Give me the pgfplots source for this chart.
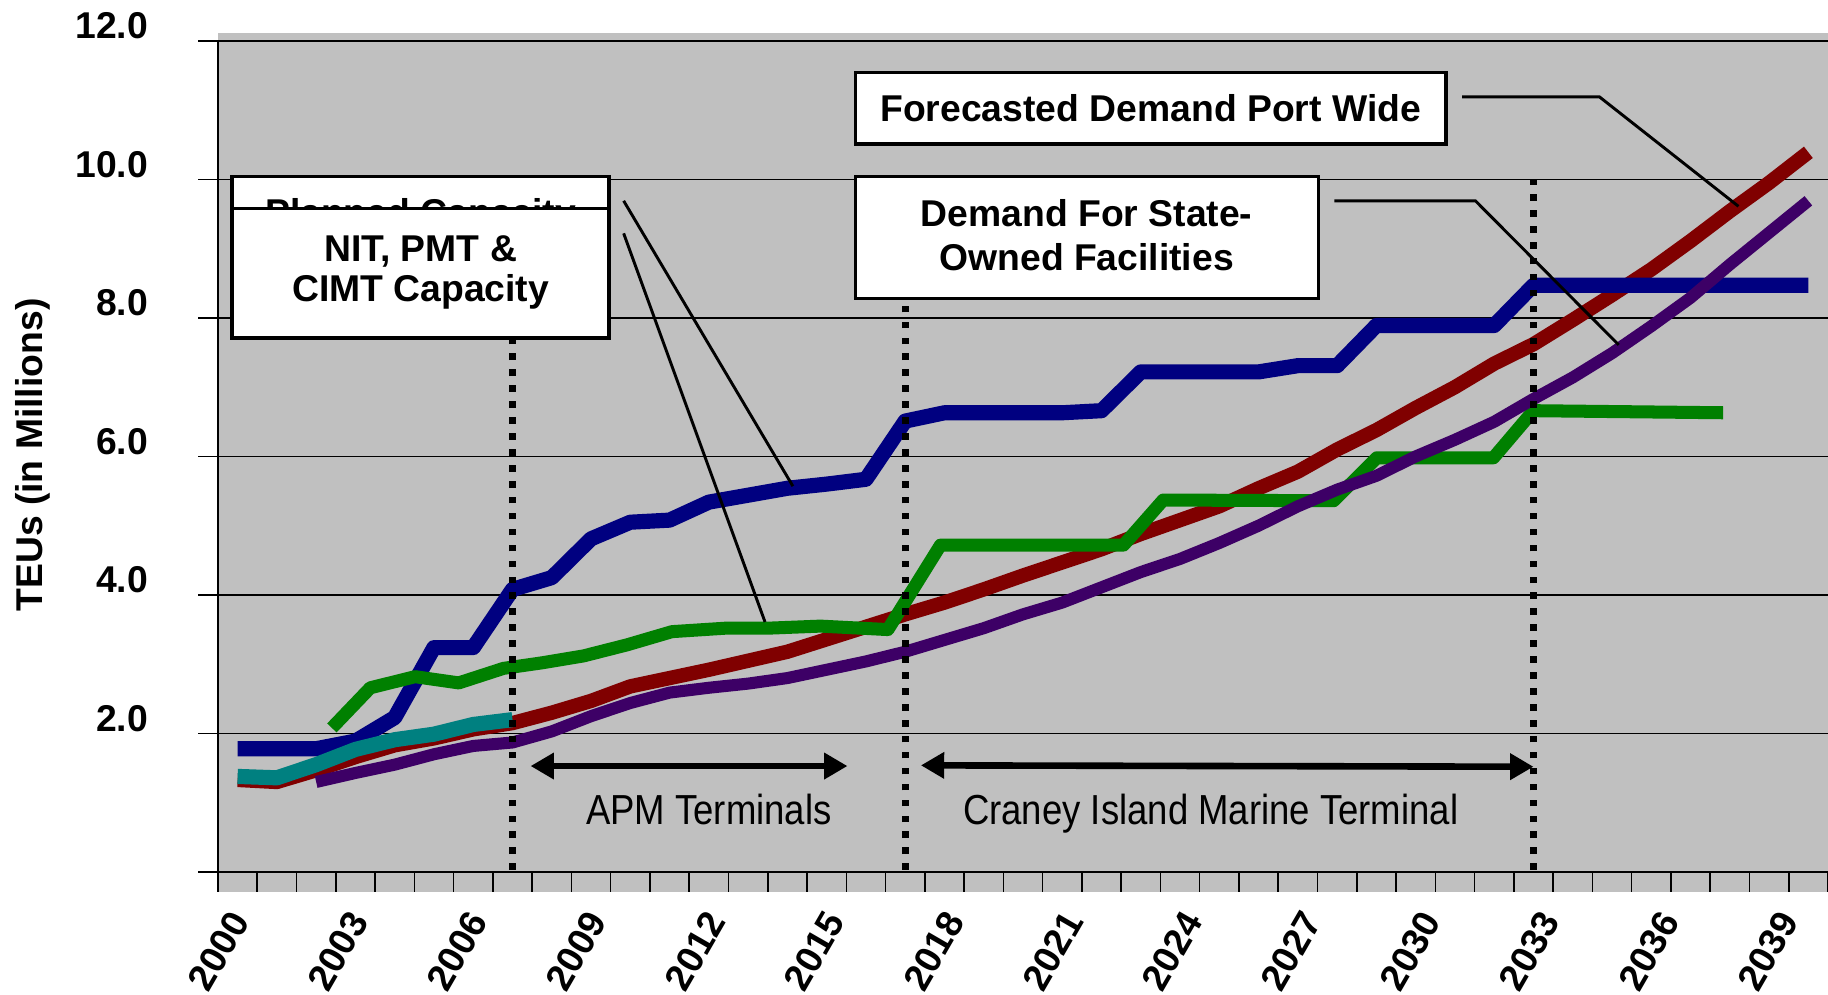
\documentclass[border=0pt]{standalone}
\usepackage{pgfplots}
\pgfplotsset{compat=1.18}
\usepackage{fontspec}
\setmainfont{Liberation Sans}
\newfontfamily\narrowfont[FakeStretch=0.87]{Liberation Sans}
\usetikzlibrary{arrows.meta}
\definecolor{silverbg}{HTML}{C0C0C0}
\definecolor{navyc}{HTML}{000080}
\definecolor{greenc}{HTML}{008000}
\definecolor{maroonc}{HTML}{800000}
\definecolor{purplec}{HTML}{3D0066}
\definecolor{tealc}{HTML}{008080}
\newcommand{\bfnt}{\fontsize{9.6}{11.5}\selectfont\bfseries}
\newcommand{\rfnt}{\narrowfont\fontsize{10.8}{12.5}\selectfont}
\begin{document}
\begin{tikzpicture}
\useasboundingbox (-56.1pt,-31.5pt) rectangle (414.3pt,224.4pt);
\fill[silverbg] (0,-5.1pt) rectangle (414.3pt,216pt);
\begin{axis}[
  at={(0,0)}, anchor=south west,
  width=414.3pt, height=213.9pt, scale only axis,
  xmin=1999.5, xmax=2040.5, ymin=0, ymax=12,
  axis lines*=left,
  axis line style={black, line width=0.5pt},
  clip=false,
  ytick={0,2,4,6,8,10,12},
  yticklabels={,2.0,4.0,6.0,8.0,10.0,12.0},
  ymajorgrids,
  major grid style={black, line width=0.4pt},
  xtick={2000.06,2003.095,2006.13,2009.16,2012.2,2015.23,2018.27,2021.3,2024.34,2027.37,2030.41,2033.44,2036.48,2039.51},
  xticklabels={2000,2003,2006,2009,2012,2015,2018,2021,2024,2027,2030,2033,2036,2039},
  minor xtick={1999.5,2000.5,...,2040.5},
  tick align=outside,
  major tick length=5.1pt, minor tick length=5.1pt,
  tick style={black, line width=0.4pt},
  major x tick style={draw=none},
  tick label style={font=\bfnt},
  xticklabel style={xshift=1.6pt, yshift=-2.9pt, rotate=60, anchor=east},
  yticklabel style={xshift=-9.4pt, yshift=3.9pt, anchor=east},
]
% Forecasted demand port wide (maroon)
\addplot[maroonc, line width=3.7pt, line join=round] coordinates {
(2000,1.33)(2001,1.30)(2002,1.47)(2003,1.66)(2004,1.83)(2005,1.93)(2006,2.06)(2007,2.15)
(2008,2.30)(2009,2.47)(2010,2.68)(2011,2.80)(2012,2.92)(2013,3.05)(2014,3.18)(2015,3.36)
(2016,3.54)(2017,3.72)(2018,3.89)(2019,4.08)(2020,4.28)(2021,4.47)(2022,4.66)(2023,4.88)
(2024,5.08)(2025,5.28)(2026,5.54)(2027,5.78)(2028,6.10)(2029,6.38)(2030,6.70)(2031,7.00)
(2032,7.34)(2033,7.62)(2034,7.97)(2035,8.33)(2036,8.70)(2037,9.11)(2038,9.54)(2039,9.95)(2040,10.39)};
% Planned capacity (navy)
\addplot[navyc, line width=3.9pt, line join=round] coordinates {
(2000,1.78)(2001,1.78)(2002,1.78)(2003,1.89)(2004,2.23)(2005,3.24)(2006,3.24)(2007,4.08)
(2008,4.25)(2009,4.81)(2010,5.05)(2011,5.08)(2012,5.34)(2013,5.44)(2014,5.54)(2015,5.60)
(2016,5.67)(2017,6.51)(2018,6.63)(2019,6.63)(2020,6.63)(2021,6.63)(2022,6.66)(2023,7.22)
(2024,7.22)(2025,7.22)(2026,7.22)(2027,7.31)(2028,7.31)(2029,7.89)(2030,7.89)(2031,7.89)
(2032,7.89)(2033,8.47)(2034,8.47)(2035,8.47)(2036,8.47)(2037,8.47)(2038,8.47)(2039,8.47)(2040,8.47)};
% NIT, PMT & CIMT capacity (green)
\addplot[greenc, line width=3.35pt, line join=round] coordinates {
(2002.4,2.08)(2003.38,2.66)(2004.52,2.82)(2005.63,2.73)(2006.77,2.94)(2007.75,3.02)
(2008.81,3.12)(2009.92,3.28)(2011.06,3.47)(2012.42,3.52)(2013.5,3.52)(2014.84,3.55)
(2016.56,3.50)(2017.9,4.72)(2022.56,4.72)(2023.57,5.37)(2027.91,5.36)(2029.01,5.98)
(2031.98,5.98)(2033.0,6.66)(2037.83,6.63)};
% Demand for state-owned facilities (purple)
\addplot[purplec, line width=3.1pt, line join=round] coordinates {
(2002,1.30)(2003,1.43)(2004,1.55)(2005,1.70)(2006,1.82)(2007,1.87)(2008,2.03)(2009,2.25)
(2010,2.44)(2011,2.59)(2012,2.66)(2013,2.72)(2014,2.80)(2015,2.92)(2016,3.04)(2017,3.18)
(2018,3.35)(2019,3.52)(2020,3.72)(2021,3.89)(2022,4.11)(2023,4.33)(2024,4.52)(2025,4.75)
(2026,5.00)(2027,5.28)(2028,5.52)(2029,5.72)(2030,6.00)(2031,6.24)(2032,6.50)(2033,6.83)
(2034,7.14)(2035,7.49)(2036,7.88)(2037,8.29)(2038,8.77)(2039,9.23)(2040,9.69)};
% Historical (teal)
\addplot[tealc, line width=3.9pt, line join=round] coordinates {
(2000,1.38)(2001,1.36)(2002,1.55)(2003,1.77)(2004,1.91)(2005,1.99)(2006,2.13)(2007,2.20)};
% dotted separators
\draw[black, line width=1.7pt, dash pattern=on 1.7pt off 2.4pt] (2007,0.03) -- (2007,7.9);
\draw[black, line width=1.7pt, dash pattern=on 1.7pt off 2.4pt] (2017,0.03) -- (2017,8.18);
\draw[black, line width=1.7pt, dash pattern=on 1.7pt off 2.4pt] (2033,0.03) -- (2033,10.0);
% arrows
\draw[black, line width=1.7pt, {Triangle[length=6pt,width=6.5pt]}-{Triangle[length=6pt,width=6.5pt]}] (2007.46,1.53) -- (2015.53,1.53);
\draw[black, line width=1.7pt, {Triangle[length=6pt,width=6.5pt]}-{Triangle[length=6pt,width=6.5pt]}] (2017.4,1.54) -- (2033.0,1.52);
\node[font=\rfnt, anchor=base] at (2012.0,0.68) {APM Terminals};
\node[font=\rfnt, anchor=base] at (2024.78,0.68) {Craney Island Marine Terminal};
% callout lines
\draw[black, line width=0.75pt] (2031.18,11.19) -- (2034.68,11.19) -- (2038.22,9.61);
\draw[black, line width=0.75pt] (2027.93,9.69) -- (2031.52,9.69) -- (2035.17,7.61);
\draw[black, line width=0.75pt] (2009.83,9.69) -- (2014.14,5.57);
\draw[black, line width=0.75pt] (2009.83,9.22) -- (2013.43,3.61);
% boxes
\draw[black, fill=white, line width=0.9pt] (2015.74,11.54) rectangle (2030.77,10.51);
\node[font=\bfnt, anchor=base] at (2023.25,10.83) {Forecasted Demand Port Wide};
\draw[black, fill=white, line width=0.9pt] (2015.74,10.04) rectangle (2027.52,8.28);
\node[font=\bfnt, anchor=base] at (2021.62,9.32) {Demand For State-};
\node[font=\bfnt, anchor=base] at (2021.62,8.69) {Owned Facilities};
\draw[black, fill=white, line width=0.9pt] (1999.86,10.04) rectangle (2009.46,8.2);
\node[font=\bfnt, anchor=base] at (2004.66,9.34) {Planned Capacity};
\draw[black, fill=white, line width=0.9pt] (1999.86,9.58) rectangle (2009.46,7.71);
\node[font=\bfnt, anchor=base] at (2004.66,8.81) {NIT, PMT \&};
\node[font=\bfnt, anchor=base] at (2004.66,8.24) {CIMT Capacity};
% y label
\node[font=\bfnt, rotate=90, anchor=center] at ([xshift=-47.7pt]axis cs:1999.5,6.02) {TEUs (in Millions)};
\end{axis}
\end{tikzpicture}
\end{document}
